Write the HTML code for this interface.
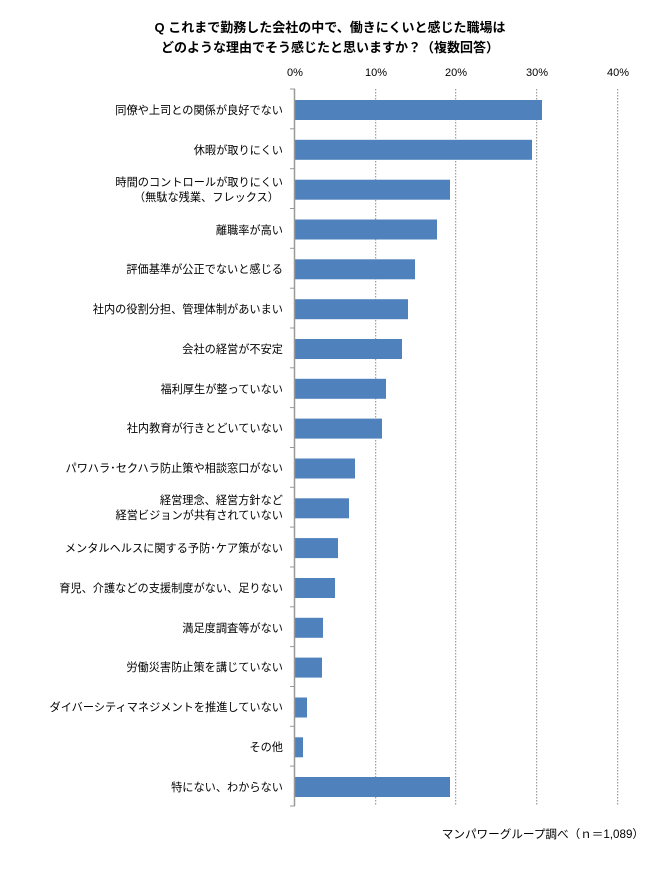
<!DOCTYPE html>
<html><head><meta charset="utf-8"><style>
body{margin:0;background:#fff;}
svg text{font-family:"Liberation Sans","Noto Sans CJK JP",sans-serif;fill:#000;}
</style></head><body>
<svg width="660" height="865" viewBox="0 0 660 865" xmlns="http://www.w3.org/2000/svg">
<text x="330" y="32" text-anchor="middle" font-size="13" font-weight="bold">Q これまで勤務した会社の中で、働きにくいと感じた職場は</text>
<text x="330" y="52" text-anchor="middle" font-size="13" font-weight="bold">どのような理由でそう感じたと思いますか？（複数回答）</text>
<g font-size="11" text-anchor="middle">
<text x="295" y="76">0%</text><text x="376" y="76">10%</text><text x="456" y="76">20%</text><text x="537" y="76">30%</text><text x="618" y="76">40%</text>
</g>
<g stroke="#888" stroke-dasharray="1.5,1.5" stroke-width="1">
<line x1="375.7" y1="89" x2="375.7" y2="806"/><line x1="455.7" y1="89" x2="455.7" y2="806"/><line x1="536.7" y1="89" x2="536.7" y2="806"/><line x1="617.7" y1="89" x2="617.7" y2="806"/>
</g>
<g fill="#4f81bd">
<rect x="295" y="100" width="247" height="20"/>
<rect x="295" y="139.8" width="237" height="20"/>
<rect x="295" y="179.7" width="155" height="20"/>
<rect x="295" y="219.5" width="142" height="20"/>
<rect x="295" y="259.3" width="120" height="20"/>
<rect x="295" y="299.2" width="113" height="20"/>
<rect x="295" y="339" width="107" height="20"/>
<rect x="295" y="378.8" width="91" height="20"/>
<rect x="295" y="418.6" width="87" height="20"/>
<rect x="295" y="458.5" width="60" height="20"/>
<rect x="295" y="498.3" width="54" height="20"/>
<rect x="295" y="538.1" width="43" height="20"/>
<rect x="295" y="578" width="40" height="20"/>
<rect x="295" y="617.8" width="28" height="20"/>
<rect x="295" y="657.6" width="27" height="20"/>
<rect x="295" y="697.5" width="12" height="20"/>
<rect x="295" y="737.3" width="8" height="20"/>
<rect x="295" y="777" width="155" height="20"/>
</g>
<g stroke="#999" stroke-width="1.5">
<line x1="294.5" y1="89" x2="294.5" y2="806"/>
</g>
<g stroke="#999" stroke-width="1">
<line x1="290" y1="89" x2="295" y2="89"/><line x1="290" y1="128.8" x2="295" y2="128.8"/><line x1="290" y1="168.7" x2="295" y2="168.7"/><line x1="290" y1="208.5" x2="295" y2="208.5"/><line x1="290" y1="248.3" x2="295" y2="248.3"/><line x1="290" y1="288.2" x2="295" y2="288.2"/><line x1="290" y1="328" x2="295" y2="328"/><line x1="290" y1="367.8" x2="295" y2="367.8"/><line x1="290" y1="407.6" x2="295" y2="407.6"/><line x1="290" y1="447.5" x2="295" y2="447.5"/><line x1="290" y1="487.3" x2="295" y2="487.3"/><line x1="290" y1="527.1" x2="295" y2="527.1"/><line x1="290" y1="567" x2="295" y2="567"/><line x1="290" y1="606.8" x2="295" y2="606.8"/><line x1="290" y1="646.6" x2="295" y2="646.6"/><line x1="290" y1="686.5" x2="295" y2="686.5"/><line x1="290" y1="726.3" x2="295" y2="726.3"/><line x1="290" y1="766.1" x2="295" y2="766.1"/><line x1="290" y1="806" x2="295" y2="806"/>
</g>
<g font-size="11.2" text-anchor="end">
<text x="283" y="114">同僚や上司との関係が良好でない</text>
<text x="283" y="154">休暇が取りにくい</text>
<text x="283" y="186">時間のコントロールが取りにくい</text>
<text x="279" y="201">（無駄な残業、フレックス）</text>
<text x="283" y="234">離職率が高い</text>
<text x="283" y="273">評価基準が公正でないと感じる</text>
<text x="283" y="313">社内の役割分担、管理体制があいまい</text>
<text x="283" y="353">会社の経営が不安定</text>
<text x="283" y="393">福利厚生が整っていない</text>
<text x="283" y="432">社内教育が行きとどいていない</text>
<text x="283" y="472">パワハラ･セクハラ防止策や相談窓口がない</text>
<text x="283" y="504">経営理念、経営方針など</text>
<text x="283" y="519">経営ビジョンが共有されていない</text>
<text x="283" y="552">メンタルヘルスに関する予防･ケア策がない</text>
<text x="283" y="592">育児、介護などの支援制度がない、足りない</text>
<text x="283" y="632">満足度調査等がない</text>
<text x="283" y="671">労働災害防止策を講じていない</text>
<text x="283" y="711">ダイバーシティマネジメントを推進していない</text>
<text x="283" y="751">その他</text>
<text x="283" y="791">特にない、わからない</text>
</g>
<text x="644" y="838" font-size="11.6" text-anchor="end">マンパワーグループ調べ（ｎ＝1,089）</text>
</svg>
</body></html>
